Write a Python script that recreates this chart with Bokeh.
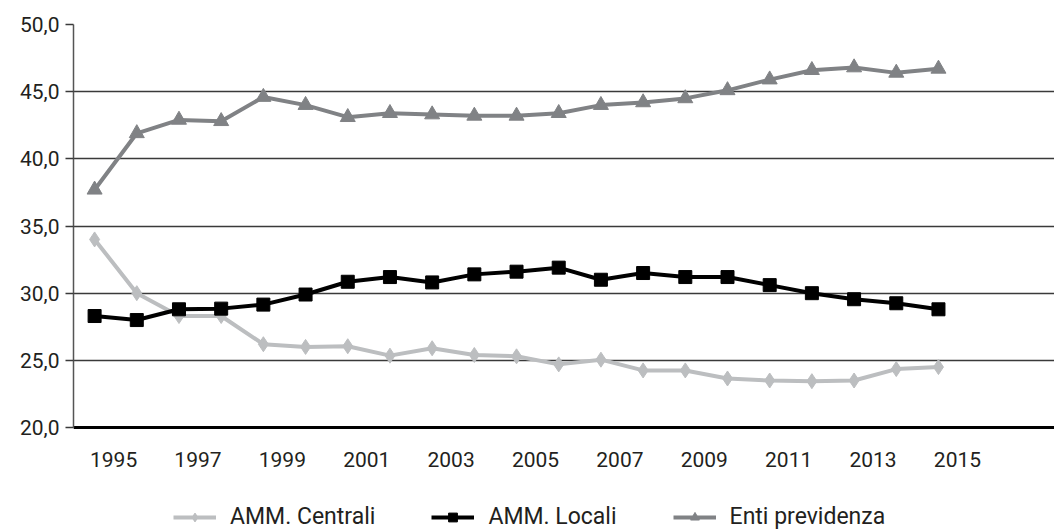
from bokeh.plotting import figure
from bokeh.models import FixedTicker, Legend, LegendItem, Range1d
from bokeh.embed import file_html
from bokeh.resources import INLINE

years = list(range(1995, 2016))
amm_centrali = [34.0, 30.0, 28.3, 28.3, 26.2, 26.0, 26.05, 25.35, 25.9, 25.4, 25.3,
                24.7, 25.05, 24.25, 24.25, 23.65, 23.5, 23.45, 23.5, 24.35, 24.5]
amm_locali = [28.3, 28.0, 28.8, 28.85, 29.15, 29.9, 30.85, 31.2, 30.8, 31.4, 31.6,
              31.9, 31.0, 31.5, 31.2, 31.2, 30.6, 30.0, 29.55, 29.25, 28.8]
enti_previdenza = [37.7, 41.9, 42.9, 42.8, 44.6, 44.0, 43.1, 43.4, 43.3, 43.2, 43.2,
                   43.4, 44.0, 44.2, 44.5, 45.1, 45.9, 46.6, 46.8, 46.4, 46.7]
series_names = ["AMM. Centrali", "AMM. Locali", "Enti previdenza"]
x_tick_labels = [str(y) for y in years[::2]]
y_ticks = [20, 25, 30, 35, 40, 45, 50]
y_tick_labels = ["20,0", "25,0", "30,0", "35,0", "40,0", "45,0", "50,0"]

FONT = "Roboto"
TXT = "#231F20"

# frame runs from the top border down to the page bottom; the x axis sits at y = 20
p = figure(width=1054, height=531, output_backend="svg", toolbar_location=None,
           x_range=Range1d(1994.5, 2017.75), y_range=Range1d(12.26, 50),
           min_border_left=73, min_border_right=0, min_border_top=24,
           min_border_bottom=0)
p.outline_line_color = None
p.xgrid.grid_line_color = None
p.ygrid.grid_line_color = "#3a3a3a"
p.ygrid.grid_line_width = 1.3

tick_pos = [int(t) + 0.45 for t in x_tick_labels]
p.xaxis.fixed_location = 20
p.xaxis.ticker = FixedTicker(ticks=tick_pos)
p.xaxis.major_label_overrides = {tp: lab for tp, lab in zip(tick_pos, x_tick_labels)}
p.xaxis.major_tick_line_color = None
p.xaxis.minor_tick_line_color = None
p.xaxis.axis_line_color = "black"
p.xaxis.axis_line_width = 3
p.xaxis.major_label_standoff = 18
p.xaxis.major_label_text_font = FONT
p.xaxis.major_label_text_font_size = "21px"
p.xaxis.major_label_text_color = TXT

p.yaxis.ticker = FixedTicker(ticks=y_ticks)
p.yaxis.bounds = (20, 50)
p.yaxis.major_label_overrides = {t: lab for t, lab in zip(y_ticks, y_tick_labels)}
p.yaxis.minor_tick_line_color = None
p.yaxis.major_tick_in = 0
p.yaxis.major_tick_out = 8
p.yaxis.major_tick_line_color = "#3a3a3a"
p.yaxis.major_tick_line_width = 1.3
p.yaxis.axis_line_color = "#555555"
p.yaxis.axis_line_width = 1.5
p.yaxis.major_label_standoff = 6
p.yaxis.major_label_text_font = FONT
p.yaxis.major_label_text_font_size = "21px"
p.yaxis.major_label_text_color = TXT

styles = [
    (amm_centrali, "#BCBEC0", "diamond", 15),
    (amm_locali, "#000000", "square", 13),
    (enti_previdenza, "#808285", "triangle", 15),
]
items = []
for name, (vals, col, mk, sz) in zip(series_names, styles):
    ln = p.line(years, vals, line_color=col, line_width=4)
    sc = p.scatter(years, vals, marker=mk, size=sz, fill_color=col, line_color=col)
    items.append(LegendItem(label=name, renderers=[ln, sc]))

legend = Legend(items=items, orientation="horizontal", location=(100, 1),
                border_line_color=None, background_fill_alpha=0,
                glyph_width=43, glyph_height=22, label_standoff=14, spacing=56,
                label_text_font=FONT, label_text_font_size="23px",
                label_text_color=TXT, margin=0, padding=0)
p.add_layout(legend)

open("out.html", "w").write(file_html(p, INLINE))
